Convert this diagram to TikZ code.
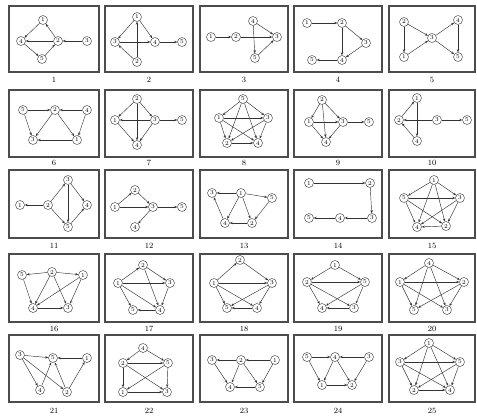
\documentclass[tikz,border=0pt]{standalone}
\usetikzlibrary{arrows.meta}
\begin{document}
\begin{tikzpicture}[x=1pt,y=-1pt,
  v/.style={circle,draw=black!75,line width=0.45pt,inner sep=0pt,minimum size=9pt,font=\fontsize{6}{6}\selectfont},
  e/.style={-{Stealth[length=3pt,width=2.4pt]},draw=black!80,line width=0.45pt},
  panel/.style={draw=black!70,line width=1.1pt},
  lab/.style={font=\fontsize{8}{8}\selectfont,inner sep=0pt}]
\useasboundingbox (0,0) rectangle (477,416);
% panel frames
\foreach \xa/\xb in {9/99,105/193,200/288,294/382,389/475}{
  \foreach \ya/\yb in {6/72,90/157,170/238,254/322,335/402}{
    \draw[panel] (\xa,\ya) rectangle (\xb,\yb);}}
% panel numbers
\foreach \n/\cx/\cy in {1/54/80,2/149/80,3/244/80,4/338/80,5/432/80,
  6/54/163,7/149/163,8/244/163,9/338/163,10/432/163,
  11/54/246,12/149/246,13/244/246,14/338/246,15/432/246,
  16/54/329,17/149/329,18/244/329,19/338/329,20/432/329,
  21/54/411,22/149/411,23/244/411,24/338/411,25/432/411}{
  \node[lab] (lab\n) at (\cx,\cy) {\n};}
% ---------- panel 1
\node[v] (p1n1) at (43,20) {1};
\node[v] (p1n4) at (21,41) {4};
\node[v] (p1n2) at (58,41) {2};
\node[v] (p1n3) at (87,41) {3};
\node[v] (p1n5) at (42,59) {5};
\draw[e] (p1n1) -- (p1n4); \draw[e] (p1n2) -- (p1n1); \draw[e] (p1n2) -- (p1n4);
\draw[e] (p1n4) -- (p1n5); \draw[e] (p1n5) -- (p1n2); \draw[e] (p1n3) -- (p1n2);
% ---------- panel 2
\node[v] (p2n1) at (137,17) {1};
\node[v] (p2n3) at (115,42) {3};
\node[v] (p2n4) at (155,42) {4};
\node[v] (p2n5) at (182,42) {5};
\node[v] (p2n2) at (137,62) {2};
\draw[e] (p2n1) -- (p2n3); \draw[e] (p2n1) -- (p2n4); \draw[e] (p2n2) -- (p2n1);
\draw[e] (p2n3) -- (p2n4); \draw[e] (p2n2) -- (p2n3); \draw[e] (p2n4) -- (p2n5);
% ---------- panel 3
\node[v] (p3n1) at (211,37) {1};
\node[v] (p3n2) at (236,37) {2};
\node[v] (p3n4) at (253,21) {4};
\node[v] (p3n3) at (277,37) {3};
\node[v] (p3n5) at (255,58) {5};
\draw[e] (p3n1) -- (p3n2); \draw[e] (p3n2) -- (p3n3); \draw[e] (p3n4) -- (p3n5);
\draw[e] (p3n4) -- (p3n3); \draw[e] (p3n5) -- (p3n3);
% ---------- panel 4
\node[v] (p4n1) at (307,23) {1};
\node[v] (p4n2) at (342,23) {2};
\node[v] (p4n3) at (366,43) {3};
\node[v] (p4n4) at (342,60) {4};
\node[v] (p4n5) at (312,60) {5};
\draw[e] (p4n1) -- (p4n2); \draw[e] (p4n2) -- (p4n3); \draw[e] (p4n2) -- (p4n4);
\draw[e] (p4n3) -- (p4n4); \draw[e] (p4n4) -- (p4n5);
% ---------- panel 5
\node[v] (p5n2) at (404,22) {2};
\node[v] (p5n1) at (404,57) {1};
\node[v] (p5n3) at (432,38) {3};
\node[v] (p5n4) at (458,20) {4};
\node[v] (p5n5) at (458,57) {5};
\draw[e] (p5n2) -- (p5n1); \draw[e] (p5n2) -- (p5n3); \draw[e] (p5n1) -- (p5n3);
\draw[e] (p5n3) -- (p5n4); \draw[e] (p5n3) -- (p5n5); \draw[e] (p5n4) -- (p5n5);
% ---------- panel 6
\node[v] (p6n5) at (23,110) {5};
\node[v] (p6n2) at (55,110) {2};
\node[v] (p6n4) at (87,110) {4};
\node[v] (p6n3) at (33,140) {3};
\node[v] (p6n1) at (77,140) {1};
\draw[e] (p6n5) -- (p6n2); \draw[e] (p6n4) -- (p6n2); \draw[e] (p6n4) -- (p6n1);
\draw[e] (p6n1) -- (p6n3); \draw[e] (p6n5) -- (p6n3); \draw[e] (p6n2) -- (p6n3);
\draw[e] (p6n2) -- (p6n1);
% ---------- panel 7
\node[v] (p7n2) at (137,99) {2};
\node[v] (p7n1) at (115,120) {1};
\node[v] (p7n3) at (155,120) {3};
\node[v] (p7n5) at (182,120) {5};
\node[v] (p7n4) at (137,145) {4};
\draw[e] (p7n2) -- (p7n1); \draw[e] (p7n2) -- (p7n3); \draw[e] (p7n3) -- (p7n1);
\draw[e] (p7n2) -- (p7n4); \draw[e] (p7n1) -- (p7n4); \draw[e] (p7n3) -- (p7n4);
\draw[e] (p7n3) -- (p7n5);
% ---------- panel 8
\node[v] (p8n5) at (243,99) {5};
\node[v] (p8n1) at (219,118) {1};
\node[v] (p8n3) at (268,118) {3};
\node[v] (p8n2) at (227,143) {2};
\node[v] (p8n4) at (258,143) {4};
\draw[e] (p8n5) -- (p8n1); \draw[e] (p8n5) -- (p8n3); \draw[e] (p8n1) -- (p8n2);
\draw[e] (p8n3) -- (p8n4); \draw[e] (p8n2) -- (p8n4); \draw[e] (p8n5) -- (p8n2);
\draw[e] (p8n5) -- (p8n4); \draw[e] (p8n1) -- (p8n3); \draw[e] (p8n1) -- (p8n4);
\draw[e] (p8n3) -- (p8n2);
% ---------- panel 9
\node[v] (p9n2) at (322,100) {2};
\node[v] (p9n1) at (309,122) {1};
\node[v] (p9n3) at (343,122) {3};
\node[v] (p9n5) at (369,122) {5};
\node[v] (p9n4) at (326,142) {4};
\draw[e] (p9n2) -- (p9n1); \draw[e] (p9n2) -- (p9n3); \draw[e] (p9n1) -- (p9n3);
\draw[e] (p9n2) -- (p9n4); \draw[e] (p9n1) -- (p9n4); \draw[e] (p9n3) -- (p9n4);
\draw[e] (p9n3) -- (p9n5);
% ---------- panel 10
\node[v] (p10n1) at (417,98) {1};
\node[v] (p10n2) at (399,120) {2};
\node[v] (p10n3) at (437,120) {3};
\node[v] (p10n5) at (467,120) {5};
\node[v] (p10n4) at (417,141) {4};
\draw[e] (p10n2) -- (p10n1); \draw[e] (p10n1) -- (p10n4); \draw[e] (p10n3) -- (p10n2);
\draw[e] (p10n3) -- (p10n5); \draw[e] (p10n4) -- (p10n2);
% ---------- panel 11
\node[v] (p11n1) at (20,205) {1};
\node[v] (p11n2) at (48,205) {2};
\node[v] (p11n3) at (68,180) {3};
\node[v] (p11n4) at (87,205) {4};
\node[v] (p11n5) at (68,227) {5};
\draw[e] (p11n2) -- (p11n1); \draw[e] (p11n2) -- (p11n3); \draw[e] (p11n3) -- (p11n4);
\draw[e] (p11n3) -- (p11n5); \draw[e] (p11n2) -- (p11n5); \draw[e] (p11n5) -- (p11n4);
% ---------- panel 12
\node[v] (p12n2) at (135,190) {2};
\node[v] (p12n1) at (115,207) {1};
\node[v] (p12n3) at (153,207) {3};
\node[v] (p12n5) at (182,207) {5};
\node[v] (p12n4) at (135,227) {4};
\draw[e] (p12n1) -- (p12n2); \draw[e] (p12n2) -- (p12n3); \draw[e] (p12n1) -- (p12n3);
\draw[e] (p12n3) -- (p12n5); \draw[e] (p12n3) -- (p12n4);
% ---------- panel 13
\node[v] (p13n3) at (212,193) {3};
\node[v] (p13n1) at (241,193) {1};
\node[v] (p13n5) at (272,198) {5};
\node[v] (p13n4) at (225,223) {4};
\node[v] (p13n2) at (252,223) {2};
\draw[e] (p13n1) -- (p13n3); \draw[e] (p13n1) -- (p13n5); \draw[e] (p13n4) -- (p13n3);
\draw[e] (p13n2) -- (p13n4); \draw[e] (p13n1) -- (p13n4); \draw[e] (p13n1) -- (p13n2);
\draw[e] (p13n5) -- (p13n2);
% ---------- panel 14
\node[v] (p14n1) at (309,183) {1};
\node[v] (p14n2) at (370,183) {2};
\node[v] (p14n3) at (372,218) {3};
\node[v] (p14n4) at (340,218) {4};
\node[v] (p14n5) at (309,218) {5};
\draw[e] (p14n1) -- (p14n2); \draw[e] (p14n2) -- (p14n3); \draw[e] (p14n3) -- (p14n4);
\draw[e] (p14n4) -- (p14n5);
% ---------- panel 15
\node[v] (p15n1) at (434,180) {1};
\node[v] (p15n5) at (404,198) {5};
\node[v] (p15n3) at (460,198) {3};
\node[v] (p15n4) at (417,227) {4};
\node[v] (p15n2) at (446,226) {2};
\draw[e] (p15n1) -- (p15n5); \draw[e] (p15n1) -- (p15n3); \draw[e] (p15n5) -- (p15n4);
\draw[e] (p15n3) -- (p15n2); \draw[e] (p15n2) -- (p15n4); \draw[e] (p15n1) -- (p15n4);
\draw[e] (p15n1) -- (p15n2); \draw[e] (p15n5) -- (p15n3); \draw[e] (p15n5) -- (p15n2);
\draw[e] (p15n3) -- (p15n4);
% ---------- panel 16
\node[v] (p16n5) at (22,275) {5};
\node[v] (p16n2) at (52,272) {2};
\node[v] (p16n1) at (83,275) {1};
\node[v] (p16n4) at (33,308) {4};
\node[v] (p16n3) at (68,308) {3};
\draw[e] (p16n2) -- (p16n5); \draw[e] (p16n2) -- (p16n1); \draw[e] (p16n5) -- (p16n4);
\draw[e] (p16n2) -- (p16n4); \draw[e] (p16n2) -- (p16n3); \draw[e] (p16n1) -- (p16n4);
\draw[e] (p16n1) -- (p16n3); \draw[e] (p16n4) -- (p16n3);
% ---------- panel 17
\node[v] (p17n2) at (143,265) {2};
\node[v] (p17n1) at (118,283) {1};
\node[v] (p17n3) at (170,283) {3};
\node[v] (p17n5) at (133,310) {5};
\node[v] (p17n4) at (160,310) {4};
\draw[e] (p17n1) -- (p17n2); \draw[e] (p17n2) -- (p17n3); \draw[e] (p17n1) -- (p17n3);
\draw[e] (p17n2) -- (p17n4); \draw[e] (p17n1) -- (p17n4); \draw[e] (p17n3) -- (p17n4);
\draw[e] (p17n4) -- (p17n5); \draw[e] (p17n1) -- (p17n5);
% ---------- panel 18
\node[v] (p18n2) at (240,260) {2};
\node[v] (p18n1) at (214,283) {1};
\node[v] (p18n3) at (272,283) {3};
\node[v] (p18n5) at (227,308) {5};
\node[v] (p18n4) at (257,308) {4};
\draw[e] (p18n1) -- (p18n2); \draw[e] (p18n2) -- (p18n3); \draw[e] (p18n1) -- (p18n3);
\draw[e] (p18n1) -- (p18n5); \draw[e] (p18n4) -- (p18n5); \draw[e] (p18n3) -- (p18n4);
\draw[e] (p18n3) -- (p18n5); \draw[e] (p18n1) -- (p18n4);
% ---------- panel 19
\node[v] (p19n1) at (335,265) {1};
\node[v] (p19n2) at (307,282) {2};
\node[v] (p19n5) at (365,282) {5};
\node[v] (p19n4) at (322,308) {4};
\node[v] (p19n3) at (354,308) {3};
\draw[e] (p19n1) -- (p19n2); \draw[e] (p19n1) -- (p19n5); \draw[e] (p19n2) -- (p19n5);
\draw[e] (p19n2) -- (p19n4); \draw[e] (p19n2) -- (p19n3); \draw[e] (p19n5) -- (p19n4);
\draw[e] (p19n3) -- (p19n4); \draw[e] (p19n5) -- (p19n3);
% ---------- panel 20
\node[v] (p20n4) at (429,263) {4};
\node[v] (p20n1) at (400,282) {1};
\node[v] (p20n2) at (464,282) {2};
\node[v] (p20n5) at (414,310) {5};
\node[v] (p20n3) at (447,310) {3};
\draw[e] (p20n4) -- (p20n1); \draw[e] (p20n4) -- (p20n2); \draw[e] (p20n1) -- (p20n5);
\draw[e] (p20n2) -- (p20n3); \draw[e] (p20n1) -- (p20n2); \draw[e] (p20n4) -- (p20n5);
\draw[e] (p20n4) -- (p20n3); \draw[e] (p20n1) -- (p20n3); \draw[e] (p20n2) -- (p20n5);
% ---------- panel 21
\node[v] (p21n3) at (20,355) {3};
\node[v] (p21n5) at (53,358) {5};
\node[v] (p21n1) at (87,358) {1};
\node[v] (p21n4) at (40,390) {4};
\node[v] (p21n2) at (67,392) {2};
\draw[e] (p21n3) -- (p21n5); \draw[e] (p21n1) -- (p21n5); \draw[e] (p21n3) -- (p21n4);
\draw[e] (p21n3) -- (p21n2); \draw[e] (p21n4) -- (p21n5); \draw[e] (p21n2) -- (p21n5);
\draw[e] (p21n2) -- (p21n1);
% ---------- panel 22
\node[v] (p22n4) at (143,348) {4};
\node[v] (p22n2) at (123,363) {2};
\node[v] (p22n5) at (168,363) {5};
\node[v] (p22n1) at (123,392) {1};
\node[v] (p22n3) at (167,392) {3};
\draw[e] (p22n4) -- (p22n2); \draw[e] (p22n4) -- (p22n5); \draw[e] (p22n2) -- (p22n5);
\draw[e] (p22n2) -- (p22n1); \draw[e] (p22n5) -- (p22n3); \draw[e] (p22n2) -- (p22n3);
\draw[e] (p22n5) -- (p22n1); \draw[e] (p22n1) -- (p22n3);
% ---------- panel 23
\node[v] (p23n3) at (212,360) {3};
\node[v] (p23n2) at (241,360) {2};
\node[v] (p23n1) at (275,360) {1};
\node[v] (p23n4) at (230,387) {4};
\node[v] (p23n5) at (260,387) {5};
\draw[e] (p23n2) -- (p23n3); \draw[e] (p23n1) -- (p23n2); \draw[e] (p23n3) -- (p23n4);
\draw[e] (p23n2) -- (p23n4); \draw[e] (p23n2) -- (p23n5); \draw[e] (p23n5) -- (p23n4);
\draw[e] (p23n1) -- (p23n5);
% ---------- panel 24
\node[v] (p24n5) at (307,357) {5};
\node[v] (p24n4) at (335,357) {4};
\node[v] (p24n3) at (369,357) {3};
\node[v] (p24n1) at (322,385) {1};
\node[v] (p24n2) at (352,385) {2};
\draw[e] (p24n5) -- (p24n4); \draw[e] (p24n3) -- (p24n4); \draw[e] (p24n5) -- (p24n1);
\draw[e] (p24n4) -- (p24n1); \draw[e] (p24n4) -- (p24n2); \draw[e] (p24n3) -- (p24n2);
\draw[e] (p24n1) -- (p24n2);
% ---------- panel 25
\node[v] (p25n1) at (429,343) {1};
\node[v] (p25n3) at (400,362) {3};
\node[v] (p25n5) at (460,362) {5};
\node[v] (p25n2) at (414,390) {2};
\node[v] (p25n4) at (450,390) {4};
\draw[e] (p25n1) -- (p25n3); \draw[e] (p25n1) -- (p25n5); \draw[e] (p25n3) -- (p25n5);
\draw[e] (p25n3) -- (p25n2); \draw[e] (p25n5) -- (p25n4); \draw[e] (p25n2) -- (p25n4);
\draw[e] (p25n1) -- (p25n4); \draw[e] (p25n1) -- (p25n2); \draw[e] (p25n3) -- (p25n4);
\draw[e] (p25n5) -- (p25n2);
\end{tikzpicture}
\end{document}
